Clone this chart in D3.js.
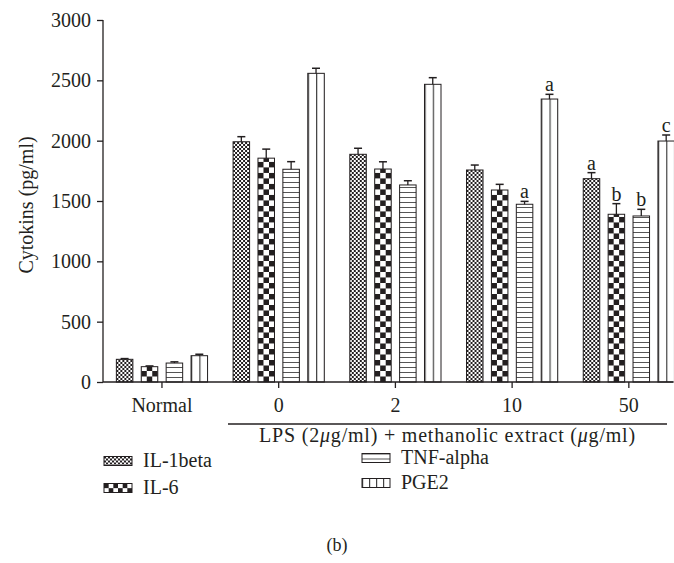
<!DOCTYPE html>
<html><head><meta charset="utf-8">
<script src="https://cdn.jsdelivr.net/npm/d3@7"></script>
<style>
html,body{margin:0;padding:0;background:#fff;}
svg{display:block;}
text{font-family:"Liberation Serif","DejaVu Serif",serif;fill:#231f20;}
</style></head>
<body>
<svg id="chart" width="674" height="563"></svg>
<script>
const categories = ["Normal", "0", "2", "10", "50"];
const seriesNames = ["IL-1beta", "IL-6", "TNF-alpha", "PGE2"];
const il1beta = [188, 1991, 1887, 1757, 1685];
const il1betaErr = [6, 42, 50, 41, 50];
const il6 = [127, 1855, 1765, 1591, 1390];
const il6Err = [6, 75, 60, 47, 88];
const tnfAlpha = [157, 1763, 1633, 1473, 1376];
const tnfAlphaErr = [10, 63, 35, 24, 55];
const pge2 = [218, 2558, 2467, 2345, 1997];
const pge2Err = [12, 42, 55, 39, 50];
const il1betaSig = ["", "", "", "", "a"];
const il6Sig = ["", "", "", "", "b"];
const tnfAlphaSig = ["", "", "", "a", "b"];
const pge2Sig = ["", "", "", "a", "c"];
const yTicks = [0, 500, 1000, 1500, 2000, 2500, 3000];
const yTitle = "Cytokins (pg/ml)";
// group title parts: [text, italic]
const groupTitleParts = [["LPS (2", false], ["\u03bc", true], ["g/ml) + methanolic extract (", false], ["\u03bc", true], ["g/ml)", false]];
const panelLabel = "(b)";

const series = [
  {name: seriesNames[0], values: il1beta, err: il1betaErr, sig: il1betaSig, pat: "fine"},
  {name: seriesNames[1], values: il6, err: il6Err, sig: il6Sig, pat: "coarse"},
  {name: seriesNames[2], values: tnfAlpha, err: tnfAlphaErr, sig: tnfAlphaSig, pat: "hlines"},
  {name: seriesNames[3], values: pge2, err: pge2Err, sig: pge2Sig, pat: "vlines"}
];

const svg = d3.select("#chart");
const defs = svg.append("defs");
const ink = "#231f20";

const axisX0 = 103, axisY0 = 382;
const y = d3.scaleLinear().domain([0, 3000]).range([382, 20]);
const x0 = d3.scaleBand().domain(categories).range([103.6, 687.2]).padding(0);
const x1 = d3.scaleBand().domain(seriesNames).range([-45.6, 45.6]).paddingInner(0.337).paddingOuter(0);
const bw = x1.bandwidth();

let pid = 0;
function makePattern(kind, ox, oy, w) {
  const id = "pat" + (pid++);
  let p;
  if (kind === "fine") {
    p = defs.append("pattern").attr("id", id).attr("patternUnits", "userSpaceOnUse")
      .attr("x", ox).attr("y", oy).attr("width", 4).attr("height", 4);
    p.append("rect").attr("width", 4).attr("height", 4).attr("fill", "#fff");
    p.append("rect").attr("width", 2).attr("height", 2).attr("fill", ink);
    p.append("rect").attr("x", 2).attr("y", 2).attr("width", 2).attr("height", 2).attr("fill", ink);
  } else if (kind === "coarse") {
    const s = w / 3;
    p = defs.append("pattern").attr("id", id).attr("patternUnits", "userSpaceOnUse")
      .attr("x", ox).attr("y", oy).attr("width", 2 * s).attr("height", 2 * s);
    p.append("rect").attr("width", 2 * s).attr("height", 2 * s).attr("fill", "#fff");
    p.append("rect").attr("width", s).attr("height", s).attr("fill", ink);
    p.append("rect").attr("x", s).attr("y", s).attr("width", s).attr("height", s).attr("fill", ink);
  } else if (kind === "hlines") {
    p = defs.append("pattern").attr("id", id).attr("patternUnits", "userSpaceOnUse")
      .attr("x", ox).attr("y", oy).attr("width", 10).attr("height", 5);
    p.append("rect").attr("width", 10).attr("height", 5).attr("fill", "#fff");
    p.append("rect").attr("y", 0).attr("width", 10).attr("height", 1).attr("fill", "#555");
  } else {
    const s = w / 2;
    p = defs.append("pattern").attr("id", id).attr("patternUnits", "userSpaceOnUse")
      .attr("x", ox).attr("y", oy).attr("width", s).attr("height", 10);
    p.append("rect").attr("width", s).attr("height", 10).attr("fill", "#fff");
    p.append("rect").attr("x", 0).attr("width", 1.2).attr("height", 10).attr("fill", "#444");
  }
  return "url(#" + id + ")";
}

const gBars = svg.append("g");
series.forEach(s => {
  categories.forEach((c, i) => {
    const bx = x0(c) + x0.bandwidth() / 2 + x1(s.name);
    const top = y(s.values[i]);
    const fill = makePattern(s.pat, bx, axisY0, bw);
    gBars.append("rect")
      .attr("x", bx).attr("y", top)
      .attr("width", bw).attr("height", y(0) - top)
      .attr("fill", fill).attr("stroke", ink).attr("stroke-width", 1);
    const cx = bx + bw / 2;
    const et = y(s.values[i] + s.err[i]);
    gBars.append("line").attr("x1", cx).attr("x2", cx).attr("y1", top).attr("y2", et)
      .attr("stroke", ink).attr("stroke-width", 1.3);
    gBars.append("line").attr("x1", cx - 4).attr("x2", cx + 4).attr("y1", et).attr("y2", et)
      .attr("stroke", ink).attr("stroke-width", 1.5);
    if (s.sig[i]) {
      gBars.append("text").attr("x", cx).attr("y", et - 3)
        .attr("text-anchor", "middle").attr("font-size", 20).text(s.sig[i]);
    }
  });
});

const yAxis = d3.axisLeft(y).tickValues(yTicks).tickSize(6).tickPadding(6).tickFormat(d3.format("d"));
const gy = svg.append("g").attr("transform", `translate(${axisX0},0)`).call(yAxis);
gy.select(".domain").remove();
gy.append("line").attr("x1", 0).attr("x2", 0).attr("y1", y(3000)).attr("y2", y(0)).attr("stroke", ink).attr("stroke-width", 1.3);
gy.selectAll(".tick line").attr("stroke", ink).attr("stroke-width", 1.3);
gy.selectAll(".tick text").attr("font-size", 20).attr("font-family", "Liberation Serif").attr("fill", ink);

const xAxis = d3.axisBottom(x0).tickSize(6).tickPadding(10);
const gx = svg.append("g").attr("transform", `translate(0,${axisY0})`).call(xAxis);
gx.select(".domain").remove();
gx.append("line").attr("x1", axisX0).attr("x2", 673).attr("y1", 0).attr("y2", 0).attr("stroke", ink).attr("stroke-width", 1.3);
gx.selectAll(".tick line").attr("stroke", ink).attr("stroke-width", 1.3);
gx.selectAll(".tick text").attr("font-size", 20).attr("font-family", "Liberation Serif").attr("fill", ink);

svg.append("line").attr("x1", 228).attr("x2", 667).attr("y1", 424).attr("y2", 424).attr("stroke", ink).attr("stroke-width", 1.3);
const gt = svg.append("text").attr("x", (228 + 667) / 2).attr("y", 442).attr("text-anchor", "middle")
  .attr("font-size", 20).attr("letter-spacing", 0.8);
groupTitleParts.forEach(([t, it]) => {
  gt.append("tspan").attr("font-style", it ? "italic" : "normal").text(t);
});

svg.append("text").attr("transform", "translate(33,205) rotate(-90)").attr("text-anchor", "middle")
  .attr("font-size", 20).text(yTitle);

const legendPos = [
  {x: 104, y: 461}, {x: 104, y: 488}, {x: 362, y: 458}, {x: 362, y: 483}
];
series.forEach((s, i) => {
  const lp = legendPos[i];
  const sw = 28, sh = 9;
  const fill = makePattern(s.pat, lp.x, lp.y - sh / 2, (s.pat === "vlines" || s.pat === "coarse") ? 14 : sw);
  svg.append("rect").attr("x", lp.x).attr("y", lp.y - sh / 2).attr("width", sw).attr("height", sh)
    .attr("fill", fill).attr("stroke", ink).attr("stroke-width", 1);
  svg.append("text").attr("x", lp.x + 39).attr("y", lp.y + 6).attr("font-size", 20).text(s.name);
});

svg.append("text").attr("x", 337).attr("y", 551).attr("text-anchor", "middle").attr("font-size", 18).text(panelLabel);
</script>
</body></html>
